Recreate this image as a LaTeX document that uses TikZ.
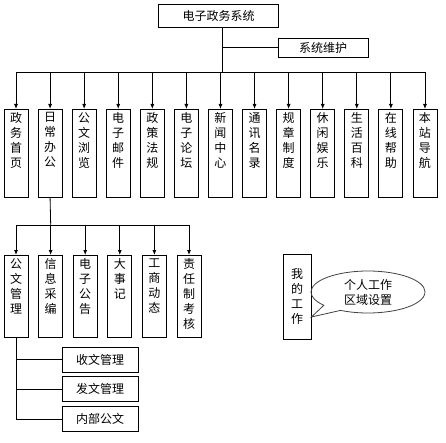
\documentclass[tikz,border=0pt]{standalone}
\usepackage{fontspec}
\newfontfamily\cjk{Noto Sans CJK SC}
\usepackage{tikz}
\usetikzlibrary{arrows.meta,shapes.callouts}

\newcommand{\vtext}[2]{\parbox[t][#1][t]{24pt}{\centering\vspace*{3pt}#2}}

\begin{document}
\begin{tikzpicture}[x=1pt, y=-1pt,
  every node/.style={font=\cjk\fontsize{12}{15}\selectfont},
  titlebox/.style={draw, line width=0.8pt, minimum height=23pt, inner sep=0pt},
  modbox/.style={draw, line width=0.8pt, inner sep=0pt, anchor=north},
  docbox/.style={draw, line width=0.8pt, minimum width=76pt, minimum height=25pt, inner sep=0pt},
  link/.style={line width=0.8pt},
  connector/.style={line width=0.8pt, -{Latex[length=5pt, width=4pt]}}
]
\useasboundingbox (0,0) rectangle (446,443);

\node[titlebox, minimum width=120pt] (sys) at (218.5,15.5) {电子政务系统};
\node[titlebox, minimum width=90pt, minimum height=19pt] (maint) at (323,47.5) {系统维护};

\coordinate (bus) at (222,72);
\draw[link] (sys.south -| bus) -- (bus);
\draw[link] (maint.west -| bus) -- (maint.west);
\draw[link] (16,72) -- (425,72);

\foreach \i/\t in {1/{政\\务\\首\\页}, 2/{日\\常\\办\\公}, 3/{公\\文\\浏\\览}, 4/{电\\子\\邮\\件},
                   5/{政\\策\\法\\规}, 6/{电\\子\\论\\坛}, 7/{新\\闻\\中\\心}, 8/{通\\讯\\名\\录},
                   9/{规\\章\\制\\度}, 10/{休\\闲\\娱\\乐}, 11/{生\\活\\百\\科}, 12/{在\\线\\帮\\助},
                   13/{本\\站\\导\\航}} {
  \node[modbox] (m\i) at ({16+34.08*(\i-1)},109) {\vtext{88pt}{\t}};
  \draw[connector] (m\i.north |- bus) -- (m\i.north);
}

\coordinate (subbus) at (50.7,225);
\draw[link] (m2.south) -- (subbus);
\draw[link] (16,225) -- (189,225);

\foreach \i/\t in {1/{公\\文\\管\\理}, 2/{信\\息\\采\\编}, 3/{电\\子\\公\\告},
                   4/{大\\事\\记}, 5/{工\\商\\动\\态}, 6/{责\\任\\制\\考\\核}} {
  \node[modbox] (s\i) at ({16+34.6*(\i-1)},255) {\vtext{82pt}{\t}};
  \draw[connector] (s\i.north |- subbus) -- (s\i.north);
}

\node[docbox] (recv) at (100,359.5) {收文管理};
\node[docbox] (send) at (100,389) {发文管理};
\node[docbox] (inner) at (100,419) {内部公文};
\draw[link] (s1.south) -- (s1.south |- inner.west) -- (inner.west);
\draw[link] (s1.south |- recv.west) -- (recv.west);
\draw[link] (s1.south |- send.west) -- (send.west);

\node[draw, line width=0.8pt, minimum width=28pt, minimum height=85pt, inner sep=0pt, align=center] (mywork) at (297,296.5) {我\\的\\工\\作};
\coordinate (tip) at ([yshift=-20.5pt]mywork.east);
\node[ellipse callout, draw=black!75, line width=0.8pt, minimum width=114pt, minimum height=42pt, inner sep=0pt,
      align=center, callout absolute pointer=(tip), callout pointer arc=22] (area) at (368,292) {个人工作\\区域设置};

\end{tikzpicture}
\end{document}
